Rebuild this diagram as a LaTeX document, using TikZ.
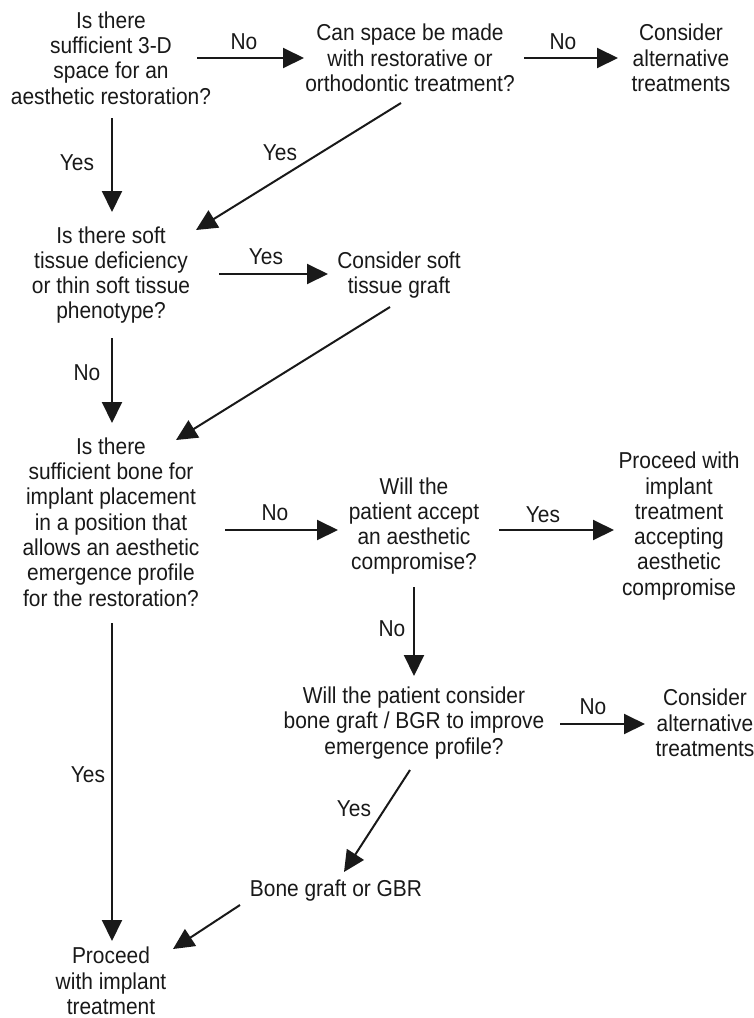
\documentclass[tikz,border=0pt]{standalone}
\usepackage{fontspec}
\setmainfont[FakeStretch=0.91]{Liberation Sans}
\usetikzlibrary{arrows.meta}
\begin{document}
\begin{tikzpicture}[x=1pt,y=-1pt,
  txt/.style={align=center,inner sep=0pt,font=\fontsize{23}{25.3}\selectfont,text=black!90},
  lbl/.style={inner sep=0pt,font=\fontsize{23}{25.3}\selectfont,text=black!90},
  arr/.style={line width=2pt,draw=black!90,-{Triangle[length=21pt,width=20pt]}}]
\useasboundingbox (0,0) rectangle (753,1018);
% nodes
\node[txt] (q1) at (111,58) {Is there\\sufficient 3-D\\space for an\\aesthetic restoration?};
\node[txt] (q2) at (410,58) {Can space be made\\with restorative or\\orthodontic treatment?};
\node[txt] (alt1) at (681,58) {Consider\\alternative\\treatments};
\node[txt] (q3) at (111,275) {Is there soft\\tissue deficiency\\or thin soft tissue\\phenotype?};
\node[txt] (soft) at (399,275) {Consider soft\\tissue graft};
\node[txt] (q4) at (111,522) {Is there\\sufficient bone for\\implant placement\\in a position that\\allows an aesthetic\\emergence profile\\for the restoration?};
\node[txt] (q5) at (414,526) {Will the\\patient accept\\an aesthetic\\compromise?};
\node[txt] (proc1) at (679,526) {Proceed with\\implant\\treatment\\accepting\\aesthetic\\compromise};
\node[txt] (q6) at (414,723) {Will the patient consider\\bone graft / BGR to improve\\emergence profile?};
\node[txt] (alt2) at (705,723) {Consider\\alternative\\treatments};
\node[txt] (bg) at (336,891) {Bone graft or GBR};
\node[txt] (proc2) at (111,981) {Proceed\\with implant\\treatment};
% labels
\node[lbl] (l1) at (244,42) {No};
\node[lbl] (l2) at (563,42) {No};
\node[lbl] (l3) at (77,163) {Yes};
\node[lbl] (l4) at (280,153) {Yes};
\node[lbl] (l5) at (266,257) {Yes};
\node[lbl] (l6) at (87,373) {No};
\node[lbl] (l7) at (275,513) {No};
\node[lbl] (l8) at (543,515) {Yes};
\node[lbl] (l9) at (392,629) {No};
\node[lbl] (l10) at (593,707) {No};
\node[lbl] (l11) at (88,775) {Yes};
\node[lbl] (l12) at (354,809) {Yes};
% connector ends
\coordinate (a1s) at (197,58);  \coordinate (a1e) at (304,58);
\coordinate (a2s) at (524,58);  \coordinate (a2e) at (618,58);
\coordinate (a3s) at (112,118); \coordinate (a3e) at (112,212);
\coordinate (a4s) at (401,103); \coordinate (a4e) at (196,230);
\coordinate (a5s) at (219,274); \coordinate (a5e) at (328,274);
\coordinate (a6s) at (112,338); \coordinate (a6e) at (112,423);
\coordinate (a7s) at (390,307); \coordinate (a7e) at (176,440);
\coordinate (a8s) at (225,530); \coordinate (a8e) at (338,530);
\coordinate (a9s) at (499,530); \coordinate (a9e) at (614,530);
\coordinate (a10s) at (414,587); \coordinate (a10e) at (414,676);
\coordinate (a11s) at (560,724); \coordinate (a11e) at (645,724);
\coordinate (a12s) at (112,623); \coordinate (a12e) at (112,941);
\coordinate (a13s) at (410,770); \coordinate (a13e) at (344,872);
\coordinate (a14s) at (240,905); \coordinate (a14e) at (173,949);
% connectors
\draw[arr] (a1s) -- (a1e);
\draw[arr] (a2s) -- (a2e);
\draw[arr] (a3s) -- (a3e);
\draw[arr] (a4s) -- (a4e);
\draw[arr] (a5s) -- (a5e);
\draw[arr] (a6s) -- (a6e);
\draw[arr] (a7s) -- (a7e);
\draw[arr] (a8s) -- (a8e);
\draw[arr] (a9s) -- (a9e);
\draw[arr] (a10s) -- (a10e);
\draw[arr] (a11s) -- (a11e);
\draw[arr] (a12s) -- (a12e);
\draw[arr] (a13s) -- (a13e);
\draw[arr] (a14s) -- (a14e);
\end{tikzpicture}
\end{document}
